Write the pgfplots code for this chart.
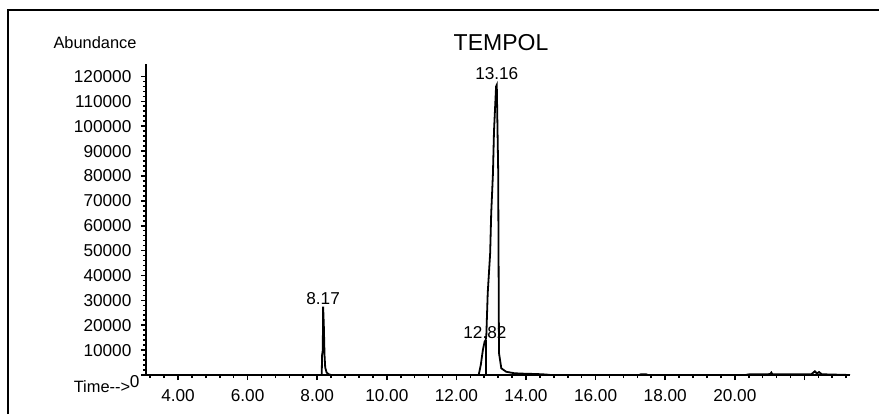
\documentclass[border=0pt]{standalone}
\usepackage{fontspec}
\setmainfont{Liberation Sans}
\usepackage{pgfplots}
\pgfplotsset{compat=1.18}

\begin{document}
\begin{tikzpicture}
\useasboundingbox (-73pt,-19.5pt) rectangle (366.5pt,187.5pt);
\draw[line width=1pt] (-69pt,-19.5pt) -- (-69pt,182.5pt) -- (366.5pt,182.5pt);

\begin{axis}[
    at={(0pt,0pt)}, anchor=south west,
    scale only axis, width=352pt, height=155.5pt,
    xmin=3.08, xmax=23.31, ymin=0, ymax=125000,
    axis x line=bottom, axis y line=left,
    axis line style={line width=1.2pt, -},
    tick align=outside,
    major tick length=2.6pt, minor tick length=1.5pt,
    tick style={black, line width=0.8pt},
    scaled y ticks=false,
    xtick={4,6,8,10,12,14,16,18,20,22},
    xticklabels={4.00,6.00,8.00,10.00,12.00,14.00,16.00,18.00,20.00,{}},
    minor xtick={3.2,3.6,4.4,4.8,5.2,5.6,6.4,6.8,7.2,7.6,8.4,8.8,9.2,9.6,10.4,10.8,11.2,11.6,12.4,12.8,13.2,13.6,14.4,14.8,15.2,15.6,16.4,16.8,17.2,17.6,18.4,18.8,19.2,19.6,20.4,20.8,21.2,21.6,22.4,22.8,23.2},
    ytick={0,10000,20000,30000,40000,50000,60000,70000,80000,90000,100000,110000,120000},
    yticklabels={{},10000,20000,30000,40000,50000,60000,70000,80000,90000,100000,110000,120000},
    minor y tick num=4,
    ticklabel style={font=\fontsize{8.6}{10}\selectfont},
    xticklabel style={yshift=-1.2pt},
    yticklabel style={xshift=-1.2pt},
    clip=false,
]
% main chromatogram trace
\addplot[black, line width=0.9pt] coordinates {
(3.08,0)(8.12,0)(8.13,300)(8.14,8000)(8.16,10000)(8.17,27500)(8.19,20000)(8.21,8000)
(8.23,3000)(8.27,1000)(8.33,300)(8.40,0)
(12.64,0)(12.70,4000)(12.76,10000)(12.81,13400)(12.84,14000)(12.86,16000)
(12.90,33000)(12.97,49000)(13.00,65000)(13.05,81000)(13.08,98000)(13.14,116000)
(13.16,116600)(13.20,82500)(13.22,19400)(13.225,8700)(13.29,2700)(13.43,1300)
(13.67,700)(14.0,500)(14.3,400)(14.58,200)(14.7,0)
(17.25,0)(17.3,300)(17.45,300)(17.5,0)
(20.3,0)(20.4,250)(20.9,250)(21.02,400)(21.05,1000)(21.08,300)(22.2,300)
(22.3,1500)(22.36,600)(22.42,1200)(22.5,300)(23.31,0)
};
% drop line of the shoulder peak
\addplot[black, line width=0.9pt] coordinates {(12.84,14000)(12.84,0)};
\node[anchor=south, inner sep=1pt, font=\fontsize{8.6}{10}\selectfont] at (axis cs:8.17,27500) {8.17};
\node[anchor=south, inner sep=1pt, font=\fontsize{8.6}{10}\selectfont] at (axis cs:12.82,13800) {12.82};
\node[anchor=south, inner sep=2.5pt, font=\fontsize{8.6}{10}\selectfont] at (axis cs:13.16,116600) {13.16};
\end{axis}

\node[font=\fontsize{8.2}{9}\selectfont] at (-25.5pt,166pt) {Abundance};
\node[font=\fontsize{11.5}{13}\selectfont] at (177.5pt,166pt) {TEMPOL};
\node[font=\fontsize{8.2}{9}\selectfont] at (-22pt,-5.8pt) {Time-{}-{}>};
\node[font=\fontsize{8.6}{10}\selectfont] at (-5.7pt,-3.2pt) {0};
\end{tikzpicture}
\end{document}
